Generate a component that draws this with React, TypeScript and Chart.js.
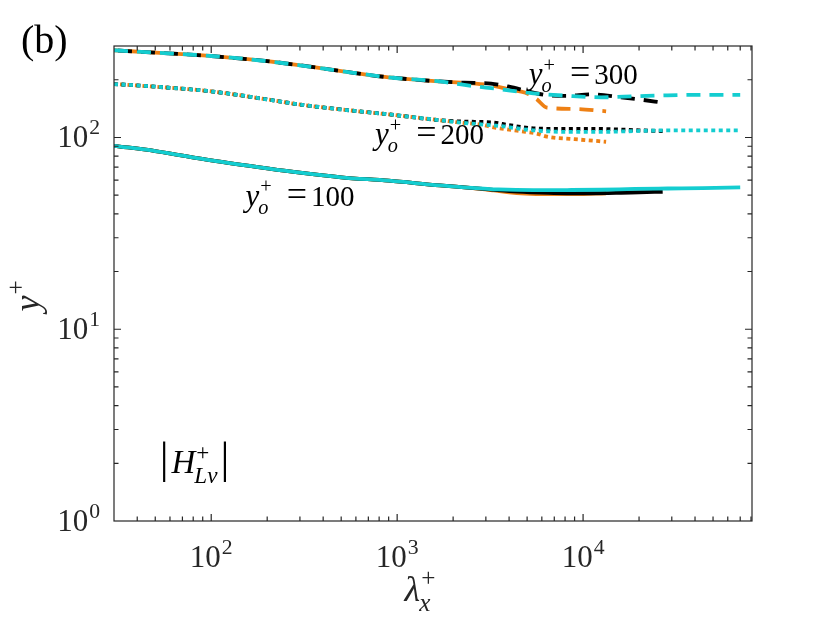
import { useEffect, useRef } from "react";
import { Chart, registerables } from "chart.js";
import type { Plugin } from "chart.js";

Chart.register(...registerables);

// axis limits
const lamMin = 30;
const lamMax = 81000;
const yMin = 1;
const yMax = 300;
const xTickExps = [2, 3, 4];
const yTickExps = [0, 1, 2];

// lambda_x^+ sampling of each case
const lamCyan = [30, 50, 100, 200, 300, 500, 900, 1700, 2300, 3500, 5400, 8200, 12500, 19000, 28500, 44000, 70000];
const lamBlack = [30, 50, 100, 200, 300, 500, 900, 1700, 2300, 3200, 4000, 5200, 6500, 8200, 11000, 16000, 20000, 26800];
const lamOrange = [30, 50, 100, 200, 300, 500, 900, 1700, 2300, 2800, 3300, 4000, 4900, 5600, 6400, 9000, 13300];

// y_o^+ = 100 (solid)
const y100Cyan = [90.5, 85, 76, 69, 65.5, 62, 59.5, 56.2, 55, 53.6, 53.1, 53.2, 53.4, 53.9, 54.2, 54.5, 54.9];
const y100Black = [90.5, 85, 76, 69, 65.5, 62, 59.5, 56.2, 55, 53.5, 52.5, 51.8, 51.4, 51.2, 51.2, 51.5, 51.8, 52.1];
const y100Orange = [90.5, 85, 76, 69, 65.5, 62, 59.5, 56.2, 55, 54, 53, 51.8, 51, 50.7, 50.6, 50.6, 51.2];

// y_o^+ = 200 (dotted)
const y200Cyan = [190, 184, 174, 158, 148.5, 140, 132, 123, 119, 115, 109, 107, 107, 108, 109, 109, 109];
const y200Black = [190, 184, 174, 158, 148.5, 140, 132, 123, 121, 120, 116, 112, 111, 111, 111, 110, 109, 108];
const y200Orange = [190, 184, 174, 158, 148.5, 140, 132, 123, 119, 117, 113, 110, 107, 105, 101, 98, 95];

// y_o^+ = 300 (dashed)
const y300Cyan = [285, 277, 266, 250, 238, 222, 206, 196, 188, 179, 170, 165, 162, 164, 166, 167, 167];
const y300Black = [285, 277, 266, 250, 238, 222, 206, 196, 193, 191, 184, 173, 166, 165, 168, 162, 158, 152];
const y300Orange = [285, 277, 266, 250, 238, 222, 206, 196, 193, 190, 186, 178, 171, 159, 143, 141, 137];

const curveNames = ["300", "200", "100"];

const CYAN = "#14CDD0";
const BLACK = "#000000";
const ORANGE = "#EE8014";
const AXIS = "#262626";
const SERIF = '"Liberation Serif", "Times New Roman", serif';

type Piece = { t: string; it?: boolean; size?: number; sup?: string; sub?: string; subIt?: boolean; gap?: number };

function setFont(ctx: CanvasRenderingContext2D, size: number, italic = false) {
  ctx.font = `${italic ? "italic " : ""}${size}px ${SERIF}`;
}

// draws base text with optional super/subscripts, returns width
function mathRun(ctx: CanvasRenderingContext2D, pieces: Piece[], x: number, y: number, size: number, draw = true) {
  let cx = x;
  for (const p of pieces) {
    cx += p.gap ?? 0;
    setFont(ctx, p.size ?? size, p.it);
    if (draw) ctx.fillText(p.t, cx, y);
    cx += ctx.measureText(p.t).width;
    const ss = size * 0.7;
    let w = 0;
    if (p.sup) {
      setFont(ctx, ss);
      if (draw) ctx.fillText(p.sup, cx + 1, y - size * 0.42);
      w = Math.max(w, ctx.measureText(p.sup).width + 1);
    }
    if (p.sub) {
      setFont(ctx, ss, p.subIt);
      if (draw) ctx.fillText(p.sub, cx - 1, y + size * 0.28);
      w = Math.max(w, ctx.measureText(p.sub).width - 1);
    }
    cx += w;
  }
  return cx - x;
}

const axesPlugin: Plugin<"line"> = {
  id: "matlabAxes",
  afterDraw(chart) {
    const { ctx, chartArea: a } = chart;
    const xs = chart.scales.x;
    const ys = chart.scales.y;
    ctx.save();
    ctx.strokeStyle = AXIS;
    ctx.lineWidth = 1.2;
    ctx.strokeRect(a.left, a.top, a.right - a.left, a.bottom - a.top);

    // inward ticks on all four sides
    ctx.beginPath();
    for (let d = 1; d <= 4; d++) {
      for (let m = 1; m <= 9; m++) {
        const v = m * Math.pow(10, d);
        if (v <= lamMin || v >= lamMax) continue;
        const px = xs.getPixelForValue(v);
        const len = m === 1 ? 7 : 4.5;
        ctx.moveTo(px, a.bottom);
        ctx.lineTo(px, a.bottom - len);
        ctx.moveTo(px, a.top);
        ctx.lineTo(px, a.top + len);
      }
    }
    for (let d = 0; d <= 2; d++) {
      for (let m = 1; m <= 9; m++) {
        const v = m * Math.pow(10, d);
        if (v <= yMin || v >= yMax) continue;
        const py = ys.getPixelForValue(v);
        const len = m === 1 ? 7 : 4.5;
        ctx.moveTo(a.left, py);
        ctx.lineTo(a.left + len, py);
        ctx.moveTo(a.right, py);
        ctx.lineTo(a.right - len, py);
      }
    }
    ctx.stroke();

    ctx.fillStyle = AXIS;
    ctx.textAlign = "left";
    ctx.textBaseline = "alphabetic";
    for (const e of xTickExps) {
      const px = xs.getPixelForValue(Math.pow(10, e));
      const pieces = [{ t: "10", sup: String(e) }];
      const w = mathRun(ctx, pieces, 0, 0, 31, false);
      mathRun(ctx, pieces, px - w / 2, a.bottom + 46, 31);
    }
    for (const e of yTickExps) {
      const py = ys.getPixelForValue(Math.pow(10, e));
      const pieces = [{ t: "10", sup: String(e) }];
      const w = mathRun(ctx, pieces, 0, 0, 31, false);
      mathRun(ctx, pieces, a.left - 14 - w, py + 10, 31);
    }

    // axis titles
    const xt: Piece[] = [{ t: "λ", it: true, sup: "+", sub: "x", subIt: true }];
    const xw = mathRun(ctx, xt, 0, 0, 36, false);
    mathRun(ctx, xt, 420 - xw / 2, 601, 36);

    ctx.save();
    ctx.translate(39, 296);
    ctx.rotate(-Math.PI / 2);
    const yt: Piece[] = [{ t: "y", it: true, sup: "+" }];
    const yw = mathRun(ctx, yt, 0, 0, 36, false);
    mathRun(ctx, yt, -yw / 2, 0, 36);
    ctx.restore();

    // annotations
    ctx.fillStyle = "#000";
    const labelAt: [number, number][] = [
      [xs.getPixelForValue(5100), ys.getPixelForValue(190)],
      [xs.getPixelForValue(760), ys.getPixelForValue(92.2)],
      [xs.getPixelForValue(153), ys.getPixelForValue(44.1)],
    ];
    curveNames.forEach((name, i) => {
      const [lx, ly] = labelAt[i];
      mathRun(
        ctx,
        [
          { t: "y", it: true, size: 31, sup: "+", sub: "o", subIt: true },
          { t: "=", size: 36, gap: 15 },
          { t: name, gap: 4 },
        ],
        lx,
        ly,
        29
      );
    });

    mathRun(
      ctx,
      [
        { t: "|", size: 44 },
        { t: "H", it: true, sup: "+", sub: "Lv", subIt: true, gap: 3 },
        { t: "|", size: 44, gap: 3 },
      ],
      xs.getPixelForValue(52.8),
      ys.getPixelForValue(1.77),
      33
    );

    setFont(ctx, 40);
    ctx.fillText("(b)", 21, 53);
    ctx.restore();
  },
};

function series(lam: number[], ys: number[]) {
  return lam.map((x, i) => ({ x, y: ys[i] }));
}

export default function App() {
  const canvasRef = useRef<HTMLCanvasElement>(null);

  useEffect(() => {
    document.body.style.margin = "0";
    if (!canvasRef.current) return;

    const DASH = [14, 9];
    const DOT = [4, 3.5];
    const line = (label: string, data: { x: number; y: number }[], color: string, dash: number[], offset = 0) => ({
      label,
      data,
      borderColor: color,
      backgroundColor: color,
      borderWidth: 3.8,
      borderDash: dash,
      borderDashOffset: offset,
      borderCapStyle: "butt" as const,
      pointRadius: 0,
      fill: false,
      cubicInterpolationMode: "monotone" as const,
    });

    // first dataset is drawn on top
    const chart = new Chart(canvasRef.current, {
      type: "line",
      data: {
        datasets: [
          line("cyan 300", series(lamCyan, y300Cyan), CYAN, DASH, 0),
          line("cyan 200", series(lamCyan, y200Cyan), CYAN, DOT, 0),
          line("cyan 100", series(lamCyan, y100Cyan), CYAN, []),
          line("black 300", series(lamBlack, y300Black), BLACK, DASH, 19),
          line("black 200", series(lamBlack, y200Black), BLACK, DOT, 0),
          line("black 100", series(lamBlack, y100Black), BLACK, []),
          line("orange 300", series(lamOrange, y300Orange), ORANGE, DASH, 10),
          line("orange 200", series(lamOrange, y200Orange), ORANGE, DOT, 1.5),
          line("orange 100", series(lamOrange, y100Orange), ORANGE, []),
        ],
      },
      options: {
        animation: false,
        responsive: false,
        layout: { padding: { left: 114, top: 46, right: 78, bottom: 102 } },
        plugins: { legend: { display: false }, tooltip: { enabled: false } },
        scales: {
          x: { type: "logarithmic", min: lamMin, max: lamMax, display: false },
          y: { type: "logarithmic", min: yMin, max: yMax, display: false },
        },
      },
      plugins: [axesPlugin],
    });

    return () => chart.destroy();
  }, []);

  return (
    <div style={{ width: 830, height: 623, background: "#fff" }}>
      <canvas ref={canvasRef} width={830} height={623} style={{ display: "block" }} />
    </div>
  );
}
